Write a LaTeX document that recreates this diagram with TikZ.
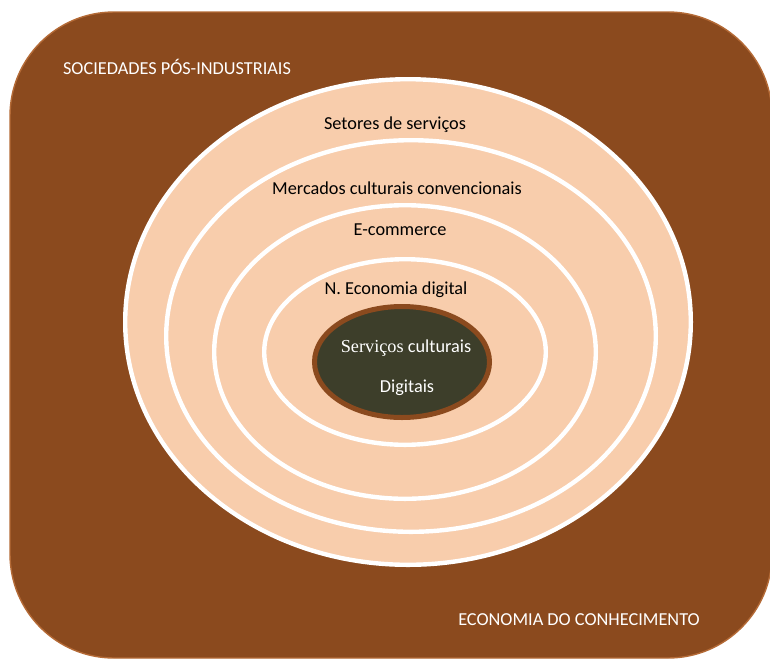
\documentclass[tikz,border=0pt]{standalone}
\usepackage{fontspec}
\setmainfont{Carlito}
\newfontfamily\cambriaface{Liberation Serif}
\usetikzlibrary{shapes.geometric,shadows}

\definecolor{barro}{RGB}{139,74,30}
\definecolor{barroclaro}{RGB}{180,106,54}
\definecolor{pessego}{RGB}{248,205,172}
\definecolor{oliva}{RGB}{61,62,42}

\begin{document}
\begin{tikzpicture}[thick,
        ring/.style={ellipse,draw=white,fill=pessego,line width=0.11cm,inner sep=0pt,
                drop shadow={shadow xshift=0.6pt,shadow yshift=-1.2pt,opacity=0.3}},
        core/.style={ellipse,draw=barro,fill=oliva,line width=0.125cm,inner sep=0pt,
                drop shadow={shadow xshift=0.6pt,shadow yshift=-1.2pt,opacity=0.3}},
        ring label/.style={font=\fontsize{13}{15}\selectfont,text=black},
        area label/.style={font=\fontsize{13}{15}\selectfont,text=white}]
        \useasboundingbox (0,0) rectangle (19.25,-16.5);
        \filldraw[fill=barro,draw=barroclaro,line width=1pt,rounded corners=2.6cm]
            (0.25,-0.3) rectangle (19.3,-16.45);

        \node[ring, minimum width=14.14cm, minimum height=12.14cm] at (10.2, -8.05) (setores) {};
        \node[ring, minimum width=12.24cm, minimum height=9.79cm] at (10.275, -8.4) (mercados) {};
        \node[ring, minimum width=9.54cm, minimum height=7.34cm] at (10.125, -8.8) (ecommerce) {};
        \node[ring, minimum width=7.04cm, minimum height=4.64cm] at (10.125, -8.8) (digital) {};
        \node[core, minimum width=4.375cm, minimum height=2.775cm] at (10.05, -9.05) (nucleo) {};

        \node[area label] at (4.425, -1.675) (sociedades) {SOCIEDADES PÓS-INDUSTRIAIS};
        \node[area label] at (14.475, -15.5) (conhecimento) {ECONOMIA DO CONHECIMENTO};
        \node[ring label] at (9.875, -3.125) (setores txt) {Setores de serviços};
        \node[ring label] at (9.925, -4.7) (mercados txt) {Mercados culturais convencionais};
        \node[ring label] at (10.0, -5.75) (ecommerce txt) {E-commerce};
        \node[ring label] at (9.9, -7.25) (digital txt) {N. Economia digital};
        \node[area label] at (10.15, -8.7) (nucleo txt) {{\cambriaface Serviços} culturais};
        \node[area label] at (10.175, -9.7) (digitais txt) {Digitais};
\end{tikzpicture}
\end{document}
